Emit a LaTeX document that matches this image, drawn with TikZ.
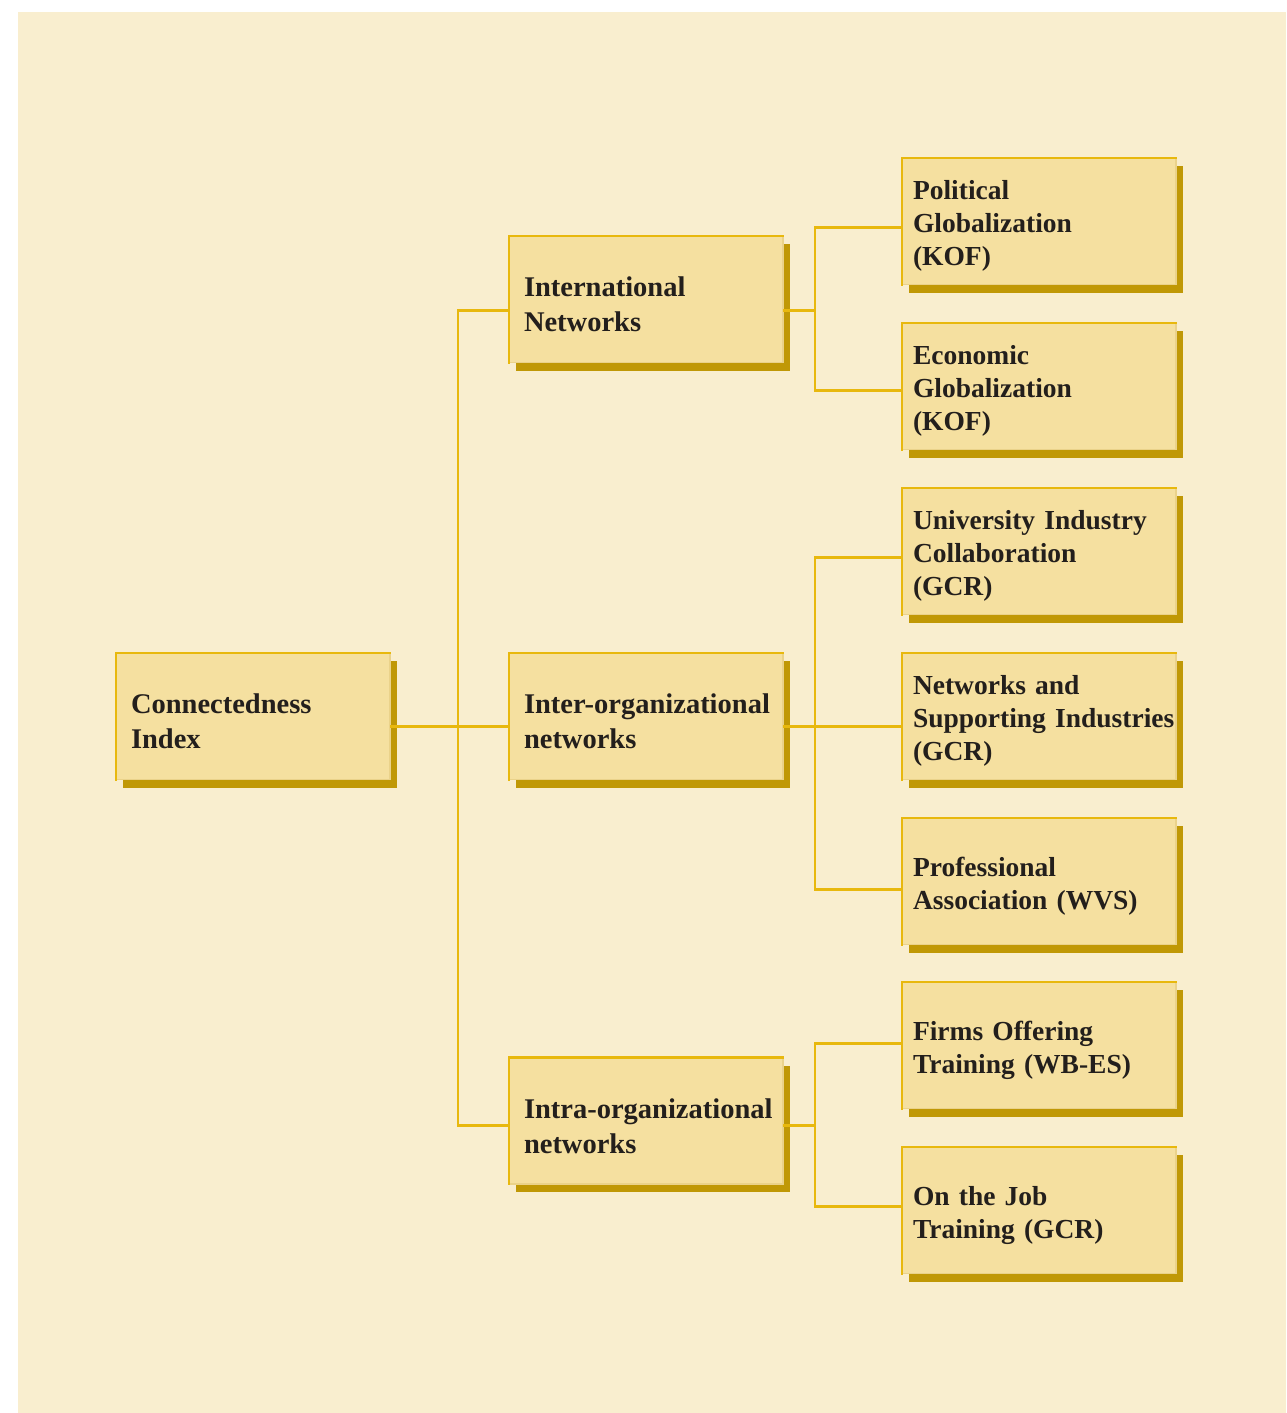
\documentclass[tikz,border=0pt]{standalone}
\usepackage{fontspec}
\setmainfont[WordSpace=0.8]{Liberation Serif}
\usetikzlibrary{shadows}
\definecolor{bgc}{HTML}{F9EECF}
\definecolor{boxc}{HTML}{F5E0A0}
\definecolor{goldc}{HTML}{E8B80E}
\definecolor{shadc}{HTML}{C09806}
\definecolor{edgec}{HTML}{EAD28A}
\definecolor{txtc}{HTML}{231F1C}
\tikzset{
  box/.style={anchor=north west, fill=boxc, draw=edgec, line width=1.5pt, outer sep=0pt,
    minimum width=274pt, minimum height=126.5pt, align=left, text=txtc,
    execute at end node={\par\vspace*{-10pt}},
    drop shadow={shadow xshift=7pt, shadow yshift=-8pt, fill=shadc, opacity=1, draw=none}},
  bigbox/.style={box, inner xsep=15pt, text width=244pt,
    font=\fontsize{28.5}{35}\selectfont\bfseries},
  smallbox/.style={box, inner xsep=11pt, text width=252pt,
    font=\fontsize{27.5}{33}\selectfont\bfseries},
  conn/.style={draw=goldc, line width=2.6pt},
  topleft/.style={draw=goldc, line width=2.8pt, line cap=rect}
}
\begin{document}
\begin{tikzpicture}[x=1pt,y=-1pt]
\useasboundingbox (0,0) rectangle (1286,1413);
\fill[white] (0,0) rectangle (1286,1413);
\fill[bgc] (18,12) rectangle (1286,1413);

\node[bigbox] (ci) at (116,653) {\mbox{Connectedness}\\\mbox{Index}};
\node[bigbox] (inn) at (509,236) {\mbox{International}\\\mbox{Networks}};
\node[bigbox] (inter) at (509,653) {\mbox{Inter-organizational}\\\mbox{networks}};
\node[bigbox] (intra) at (509,1057.5) {\mbox{Intra-organizational}\\\mbox{networks}};

\node[smallbox] (pol) at (902,158) {\mbox{Political}\\\mbox{Globalization}\\\mbox{(KOF)}};
\node[smallbox] (eco) at (902,323) {\mbox{Economic}\\\mbox{Globalization}\\\mbox{(KOF)}};
\node[smallbox] (uni) at (902,488) {\mbox{University Industry}\\\mbox{Collaboration}\\\mbox{(GCR)}};
\node[smallbox] (net) at (902,653) {\mbox{Networks and}\\\mbox{Supporting Industries}\\\mbox{(GCR)}};
\node[smallbox] (pro) at (902,818) {\mbox{Professional}\\\mbox{Association (WVS)}};
\node[smallbox] (firm) at (902,982) {\mbox{Firms Offering}\\\mbox{Training (WB-ES)}};
\node[smallbox] (job) at (902,1147) {\mbox{On the Job}\\\mbox{Training (GCR)}};

\foreach \n in {ci,inn,inter,intra,pol,eco,uni,net,pro,firm,job}
  \draw[topleft] (\n.south west) -- (\n.north west) -- (\n.north east);

% left spine
\draw[conn] ([yshift=-11pt]inn.west) -- ++(-51,0) |- ([yshift=-4.5pt]intra.west);
\draw[conn] ([yshift=-10pt]ci.east) -- ([yshift=-10pt]inter.west);

% international group
\draw[conn] ([yshift=-11pt]inn.east) -- ++(32,0);
\draw[conn] ([yshift=-6.5pt]pol.west) -- ++(-87,0) |- ([yshift=-4.5pt]eco.west);

% inter-organizational group
\draw[conn] ([yshift=-6.5pt]uni.west) -- ++(-87,0) |- ([yshift=-8.5pt]pro.west);
\draw[conn] ([yshift=-10pt]inter.east) -- ([yshift=-10pt]net.west);

% intra-organizational group
\draw[conn] ([yshift=-4.5pt]intra.east) -- ++(32,0);
\draw[conn] ([yshift=1.5pt]firm.west) -- ++(-87,0) |- ([yshift=3.5pt]job.west);
\end{tikzpicture}
\end{document}
